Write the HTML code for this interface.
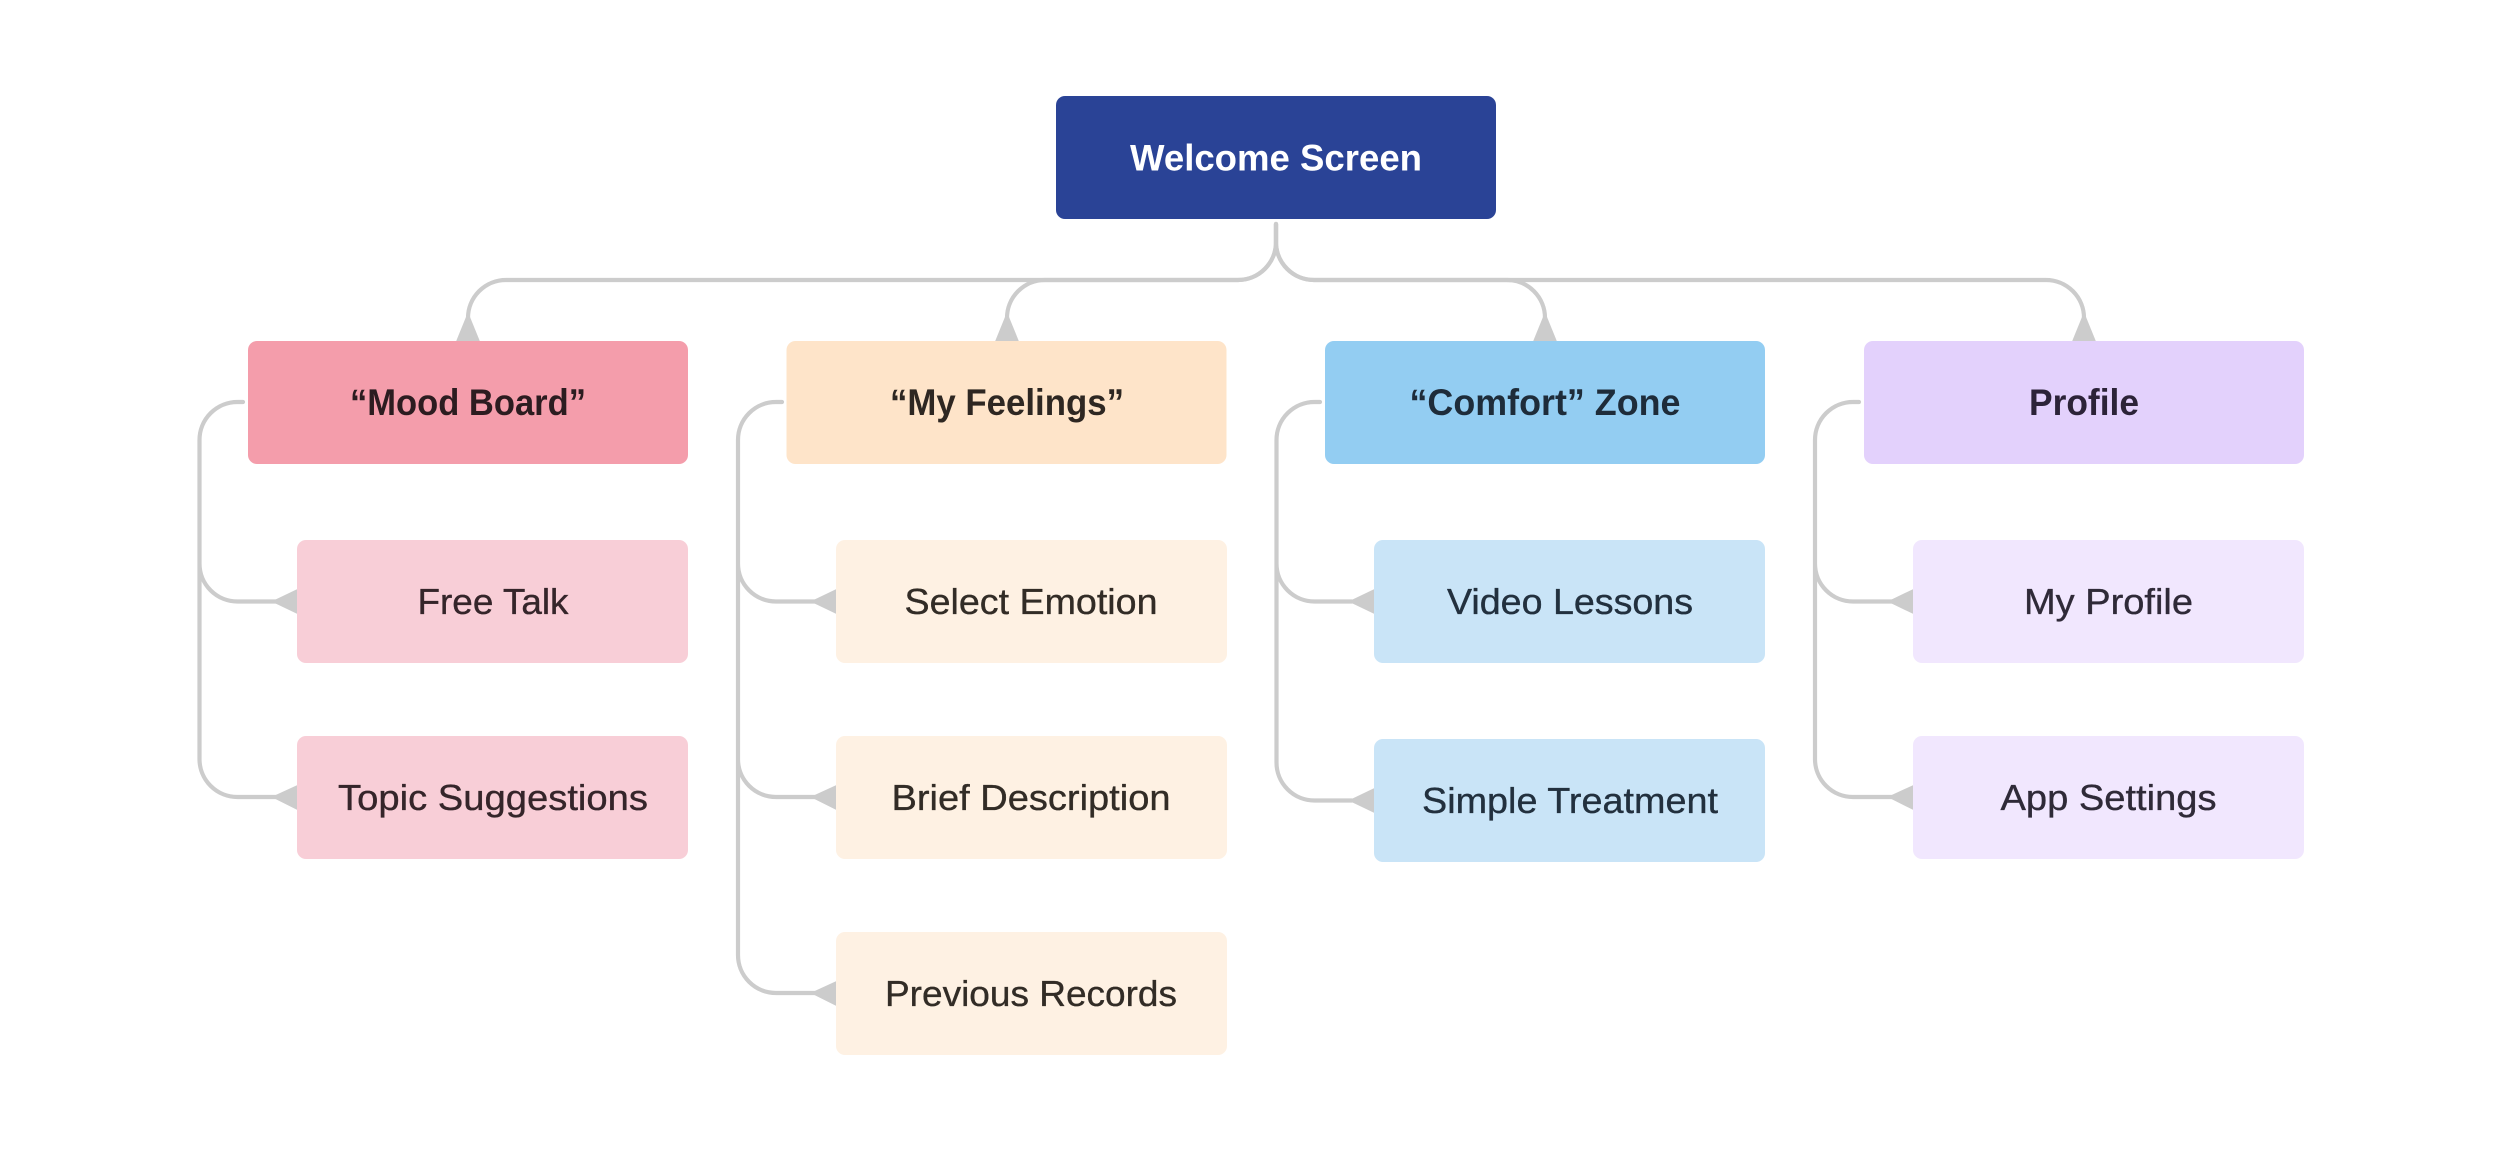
<!DOCTYPE html>
<html><head><meta charset="utf-8"><title>Welcome Screen Sitemap</title>
<style>
html,body{margin:0;padding:0;background:#fff;width:2500px;height:1151px;overflow:hidden}
svg{display:block}
text{font-family:"Liberation Sans",sans-serif;text-anchor:middle}
.h{font-weight:700;font-size:37px}
.c{font-size:36px;stroke-width:.35px;paint-order:stroke}
.l{fill:none;stroke:#cccccc;stroke-width:4.2;stroke-linecap:round}
.a{fill:#cccccc;stroke:#cccccc;stroke-width:1.5;stroke-linejoin:round}
</style></head><body>
<svg width="2500" height="1151" viewBox="0 0 2500 1151" xmlns="http://www.w3.org/2000/svg">
<rect width="2500" height="1151" fill="#fff"/>

<!-- top connectors -->
<path class="l" d="M1276 224V242A38 38 0 0 1 1238 280H506A38 38 0 0 0 468 318"/>
<path class="l" d="M1276 224V242A38 38 0 0 1 1238 280H1045A38 38 0 0 0 1007 318"/>
<path class="l" d="M1276 224V242A38 38 0 0 0 1314 280H1507A38 38 0 0 1 1545 318"/>
<path class="l" d="M1276 224V242A38 38 0 0 0 1314 280H2046A38 38 0 0 1 2084 318"/>
<path class="a" d="M468 314L479 341H457Z"/>
<path class="a" d="M1007 314L1018 341H996Z"/>
<path class="a" d="M1545 314L1556 341H1534Z"/>
<path class="a" d="M2084 314L2095 341H2073Z"/>

<!-- side connectors -->
<path class="l" d="M243 402H237.5A38 38 0 0 0 199.5 440V759A38 38 0 0 0 237.5 797H280M199.5 563.5A38 38 0 0 0 237.5 601.5H280"/>
<path class="a" d="M273 601.5L297 590V613Z"/><path class="a" d="M273 797L297 786V809Z"/>

<path class="l" d="M782 402H776A38 38 0 0 0 738 440V955A38 38 0 0 0 776 993H815M738 563.5A38 38 0 0 0 776 601.5H815M738 759A38 38 0 0 0 776 797H815"/>
<path class="a" d="M812 601.5L836 590V613Z"/><path class="a" d="M812 797L836 786V809Z"/><path class="a" d="M812 993L836 982V1005Z"/>

<path class="l" d="M1320 402H1314.5A38 38 0 0 0 1276.5 440V762.5A38 38 0 0 0 1314.5 800.5H1352M1276.5 563.5A38 38 0 0 0 1314.5 601.5H1352"/>
<path class="a" d="M1350 601.5L1374 590V613Z"/><path class="a" d="M1350 800.5L1374 789V812Z"/>

<path class="l" d="M1859 402H1853A38 38 0 0 0 1815 440V759A38 38 0 0 0 1853 797H1892M1815 563.5A38 38 0 0 0 1853 601.5H1892"/>
<path class="a" d="M1889 601.5L1913 590V613Z"/><path class="a" d="M1889 797L1913 786V809Z"/>

<!-- root -->
<rect x="1056" y="96" width="440" height="123" rx="9" fill="#2a4396"/>
<text class="h" x="1276" y="170.5" fill="#ffffff" textLength="292" lengthAdjust="spacingAndGlyphs">Welcome Screen</text>

<!-- Mood Board -->
<rect x="248" y="341" width="440" height="123" rx="9" fill="#f49dab"/>
<text class="h" x="468" y="415" fill="#2c1c20" textLength="236" lengthAdjust="spacingAndGlyphs">“Mood Board”</text>
<rect x="297" y="540" width="391" height="123" rx="9" fill="#f8ced7"/>
<text class="c" x="493" y="614" fill="#35252a" stroke="#35252a" textLength="151" lengthAdjust="spacingAndGlyphs">Free Talk</text>
<rect x="297" y="736" width="391" height="123" rx="9" fill="#f8ced7"/>
<text class="c" x="493" y="810" fill="#35252a" stroke="#35252a" textLength="310" lengthAdjust="spacingAndGlyphs">Topic Suggestions</text>

<!-- My Feelings -->
<rect x="786.5" y="341" width="440" height="123" rx="9" fill="#fee4c9"/>
<text class="h" x="1007" y="415" fill="#2e2722" textLength="234" lengthAdjust="spacingAndGlyphs">“My Feelings”</text>
<rect x="836" y="540" width="391" height="123" rx="9" fill="#fef1e3"/>
<text class="c" x="1031" y="614" fill="#322c26" stroke="#322c26" textLength="253" lengthAdjust="spacingAndGlyphs">Select Emotion</text>
<rect x="836" y="736" width="391" height="123" rx="9" fill="#fef1e3"/>
<text class="c" x="1031" y="810" fill="#322c26" stroke="#322c26" textLength="279" lengthAdjust="spacingAndGlyphs">Brief Description</text>
<rect x="836" y="932" width="391" height="123" rx="9" fill="#fef1e3"/>
<text class="c" x="1031" y="1006" fill="#322c26" stroke="#322c26" textLength="292" lengthAdjust="spacingAndGlyphs">Previous Records</text>

<!-- Comfort Zone -->
<rect x="1325" y="341" width="440" height="123" rx="9" fill="#93cdf2"/>
<text class="h" x="1545" y="415" fill="#1e2c3a" textLength="271" lengthAdjust="spacingAndGlyphs">“Comfort” Zone</text>
<rect x="1374" y="540" width="391" height="123" rx="9" fill="#c9e4f7"/>
<text class="c" x="1570" y="614" fill="#22303e" stroke="#22303e" textLength="246" lengthAdjust="spacingAndGlyphs">Video Lessons</text>
<rect x="1374" y="739" width="391" height="123" rx="9" fill="#c9e4f7"/>
<text class="c" x="1570" y="813" fill="#22303e" stroke="#22303e" textLength="296" lengthAdjust="spacingAndGlyphs">Simple Treatment</text>

<!-- Profile -->
<rect x="1864" y="341" width="440" height="123" rx="9" fill="#e3d1fc"/>
<text class="h" x="2084" y="415" fill="#2c2338" textLength="110" lengthAdjust="spacingAndGlyphs">Profile</text>
<rect x="1913" y="540" width="391" height="123" rx="9" fill="#f1e7fe"/>
<text class="c" x="2108.5" y="614" fill="#2f2a38" stroke="#2f2a38" textLength="169" lengthAdjust="spacingAndGlyphs">My Profile</text>
<rect x="1913" y="736" width="391" height="123" rx="9" fill="#f1e7fe"/>
<text class="c" x="2108.5" y="810" fill="#2f2a38" stroke="#2f2a38" textLength="216" lengthAdjust="spacingAndGlyphs">App Settings</text>
</svg>
</body></html>
